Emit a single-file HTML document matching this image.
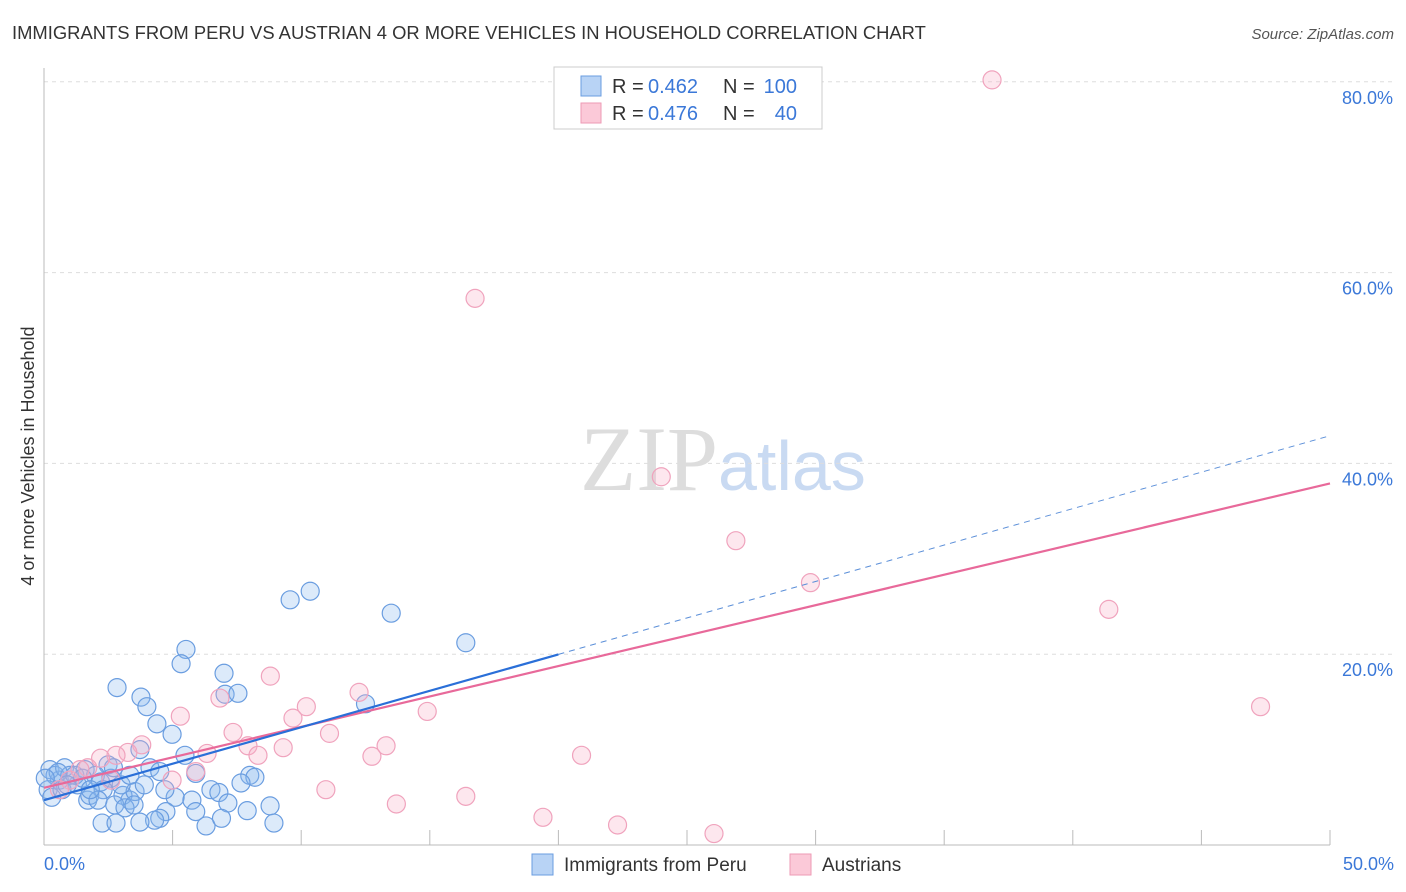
<!DOCTYPE html>
<html><head><meta charset="utf-8"><style>
body{margin:0;background:#fff;font-family:"Liberation Sans",sans-serif}
svg{display:block}
</style></head><body>
<svg id="c" width="1406" height="892">
<text x="12" y="39" font-size="18.4" fill="#333">IMMIGRANTS FROM PERU VS AUSTRIAN 4 OR MORE VEHICLES IN HOUSEHOLD CORRELATION CHART</text>
<text x="1394" y="39" font-size="15" fill="#555" font-style="italic" text-anchor="end">Source: ZipAtlas.com</text>
<text x="718" y="490" font-size="92" fill="#ddd" font-family="Liberation Serif" text-anchor="end">ZIP</text>
<text x="718" y="490" font-size="70" fill="#c9daf2">atlas</text>
<text transform="translate(34,456) rotate(-90)" font-size="18" fill="#333" text-anchor="middle">4 or more Vehicles in Household</text>
<g id="grid"></g><g id="pts"></g><g id="lines"></g>
<g>
<rect x="554" y="67" width="268" height="62" fill="#fff" stroke="#ccc"/>
<rect x="581" y="76" width="20" height="20" fill="#b8d3f5" stroke="#6a9de0"/>
<rect x="581" y="103" width="20" height="20" fill="#fbc9d8" stroke="#ee9ab5"/>
<text x="612" y="93" font-size="20" fill="#333">R =</text>
<text x="648" y="93" font-size="20" fill="#3b78d8">0.462</text>
<text x="723" y="93" font-size="20" fill="#333">N =</text>
<text x="797" y="93" font-size="20" fill="#3b78d8" text-anchor="end">100</text>
<text x="612" y="120" font-size="20" fill="#333">R =</text>
<text x="648" y="120" font-size="20" fill="#3b78d8">0.476</text>
<text x="723" y="120" font-size="20" fill="#333">N =</text>
<text x="797" y="120" font-size="20" fill="#3b78d8" text-anchor="end">40</text>
</g>
<g>
<rect x="532" y="854" width="21" height="21" fill="#b8d3f5" stroke="#6a9de0"/>
<text x="564" y="871" font-size="19" fill="#333">Immigrants from Peru</text>
<rect x="790" y="854" width="21" height="21" fill="#fbc9d8" stroke="#ee9ab5"/>
<text x="822" y="871" font-size="19" fill="#333">Austrians</text>
</g>
</svg>
<script>
const yTicks=[20,40,60,80];
const yTickLabels=["20.0%","40.0%","60.0%","80.0%"];
const xTickLabels=["0.0%","50.0%"];
const peru=[[9.57,25.7],[10.35,26.6],[13.5,24.3],[16.4,21.2],[5.52,20.5],[5.33,19.0],[7.0,18.0],[2.84,16.5],[7.04,15.8],[7.54,15.9],[3.77,15.5],[4.0,14.5],[12.5,14.8],[4.39,12.7],[4.98,11.6],[5.48,9.4],[3.73,10.0],[5.9,7.5],[2.49,8.4],[4.12,8.1],[4.5,7.7],[8.0,7.3],[8.2,7.1],[7.66,6.5],[6.49,5.8],[6.8,5.5],[5.1,5.0],[5.75,4.7],[7.15,4.4],[8.79,4.1],[7.9,3.6],[5.9,3.5],[4.74,3.5],[4.5,2.8],[4.3,2.6],[3.73,2.4],[2.26,2.3],[2.8,2.3],[6.3,2.0],[6.9,2.8],[8.94,2.3],[3.34,4.7],[3.07,5.2],[3.54,5.6],[1.7,4.7],[1.78,5.2],[1.3,6.3],[0.6,6.8],[0.23,7.9],[0.43,7.3],[0.8,8.1],[0.16,5.8],[0.3,5.0],[1.0,7.3],[1.6,7.9],[2.0,7.3],[2.2,6.6],[2.6,7.0],[2.7,8.1],[3.0,6.3],[3.34,7.3],[3.9,6.3],[4.7,5.8],[2.3,5.8],[1.2,7.3],[0.55,7.6],[1.5,7.0],[2.1,4.7],[2.75,4.2],[3.15,3.9],[3.5,4.2],[0.7,5.8],[0.05,7.0],[0.9,6.3],[1.8,5.8]];
const austrians=[[36.86,80.2],[16.76,57.3],[24.0,38.6],[26.9,31.9],[29.8,27.5],[41.4,24.7],[47.3,14.5],[8.8,17.7],[12.25,16.0],[10.2,14.5],[9.68,13.3],[5.3,13.5],[6.84,15.4],[14.9,14.0],[7.35,11.8],[11.1,11.7],[13.3,10.4],[12.75,9.3],[7.93,10.4],[9.3,10.2],[8.32,9.4],[6.34,9.6],[3.8,10.5],[3.26,9.7],[2.8,9.4],[2.2,9.1],[20.9,9.4],[5.9,7.7],[4.98,6.8],[10.96,5.8],[13.7,4.3],[16.4,5.1],[19.4,2.9],[22.3,2.1],[26.05,1.2],[1.7,8.1],[1.0,6.8],[0.6,5.8],[1.4,7.9],[2.6,6.8]];
const peruLine=[4.7,0.764];
const ausLine=[6.0,0.638];
const NS='http://www.w3.org/2000/svg';
const X=v=>44+v/50*1286, Y=v=>845-v*9.54;
function mk(t,a,p){const e=document.createElementNS(NS,t);for(const k in a)e.setAttribute(k,a[k]);p.appendChild(e);return e;}
const g=document.getElementById('grid');
yTicks.forEach((t,i)=>{
 const l=mk('line',{x1:44,x2:1394,y1:Y(t),y2:Y(t),stroke:'#ddd','stroke-dasharray':'4,4'},g);
 
 
 const tx=mk('text',{x:1393,y:Y(t)+22,'font-size':18,fill:'#3b78d8','text-anchor':'end'},g);
 tx.textContent=yTickLabels[i];
 
 
});
const ax=mk('line',{x1:44,x2:44,y1:68,y2:845,stroke:'#bbb'},g);


const bx=mk('line',{x1:44,x2:1330,y1:845,y2:845,stroke:'#bbb'},g);


for(let v=5;v<=50;v+=5){const t=mk('line',{x1:X(v),x2:X(v),y1:830,y2:845,stroke:'#bbb'},g);
 
 }
[[0,'start',44],[50,'end',1394]].forEach((d,i)=>{const t=mk('text',{x:d[2],y:870,'font-size':18,fill:'#3b78d8','text-anchor':d[1]},g);
 t.textContent=xTickLabels[i];
 
 });
const P=document.getElementById('pts');
peru.forEach(d=>{const c=mk('circle',{cx:X(d[0]),cy:Y(d[1]),r:9,fill:'rgba(140,185,240,0.3)',stroke:'#6a9de0','stroke-width':1.2},P);
 
 });
austrians.forEach(d=>{const c=mk('circle',{cx:X(d[0]),cy:Y(d[1]),r:9,fill:'rgba(248,175,200,0.3)',stroke:'#f0a3bd','stroke-width':1.2},P);
 
 });
const L=document.getElementById('lines');
const f=(ln,x)=>ln[0]+ln[1]*x;
let a=mk('line',{x1:X(0),y1:Y(f(ausLine,0)),x2:X(50),y2:Y(f(ausLine,50)),stroke:'#e8699a','stroke-width':2.2},L);


let b=mk('line',{x1:X(0),y1:Y(f(peruLine,0)),x2:X(20),y2:Y(f(peruLine,20)),stroke:'#2a6fd8','stroke-width':2.2},L);


let c=mk('line',{x1:X(20),y1:Y(f(peruLine,20)),x2:X(50),y2:Y(f(peruLine,50)),stroke:'#5a8ed8','stroke-width':1,'stroke-dasharray':'6,5'},L);


</script>
</body></html>
